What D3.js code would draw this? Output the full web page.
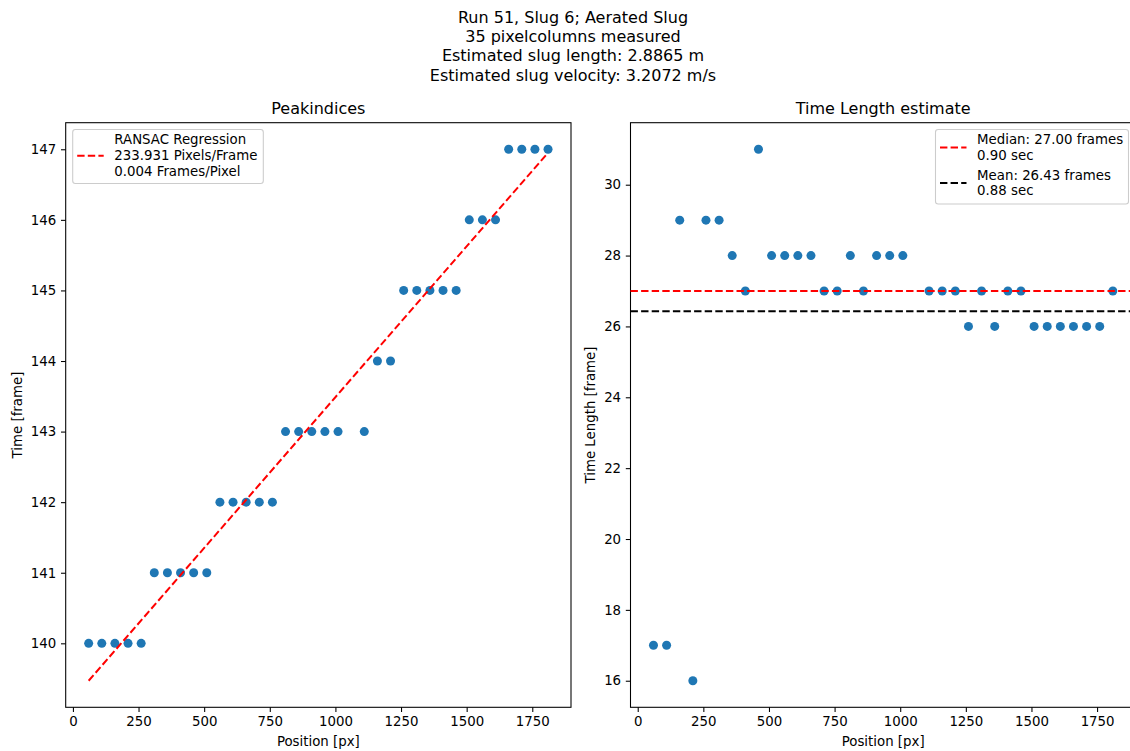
<!DOCTYPE html>
<html>
<head>
<meta charset="utf-8">
<script src="https://cdn.jsdelivr.net/npm/d3@7"></script>
<style>
body { margin: 0; background: #fff; }
svg { display: block; font-family: "DejaVu Sans", sans-serif; }
</style>
</head>
<body>
<svg width="1130" height="751"></svg>
<script>
// pixel columns (x) - 1060 was not measured
var positions = [60, 110, 160, 210, 260, 310, 360, 410, 460, 510,
                 560, 610, 660, 710, 760, 810, 860, 910, 960, 1010,
                 1110, 1160, 1210, 1260, 1310, 1360, 1410, 1460, 1510, 1560,
                 1610, 1660, 1710, 1760, 1810];
var peakFrames = [140, 140, 140, 140, 140, 141, 141, 141, 141, 141,
                  142, 142, 142, 142, 142, 143, 143, 143, 143, 143,
                  143, 144, 144, 145, 145, 145, 145, 145, 146, 146,
                  146, 147, 147, 147, 147];
var timeLengths = [17, 17, 29, 16, 29, 29, 28, 27, 31, 28,
                   28, 28, 28, 27, 27, 28, 27, 28, 28, 28,
                   27, 27, 27, 26, 27, 26, 27, 27, 26, 26,
                   26, 26, 26, 26, 27];
var ransacX = [60, 1810];
var ransacY = [139.47, 146.95];
var medianFrames = 27.00;
var meanFrames = 26.43;

var xTicks = [0, 250, 500, 750, 1000, 1250, 1500, 1750];
var peakTicks = [140, 141, 142, 143, 144, 145, 146, 147];
var lengthTicks = [16, 18, 20, 22, 24, 26, 28, 30];

var titleLines = ['Run 51, Slug 6; Aerated Slug', '35 pixelcolumns measured',
                  'Estimated slug length: 2.8865 m', 'Estimated slug velocity: 3.2072 m/s'];
var ransacLabel = ['RANSAC Regression', '233.931 Pixels/Frame', '0.004 Frames/Pixel'];
var medianLabel = ['Median: 27.00 frames', '0.90 sec'];
var meanLabel = ['Mean: 26.43 frames', '0.88 sec'];

var svg = d3.select('svg');
var blue = '#1f77b4';
var fs = 13.33;

// matplotlib style 5% margins
function padded(vals) {
    var e = d3.extent(vals);
    var m = (e[1] - e[0]) * 0.05;
    return [e[0] - m, e[1] + m];
}

var axTop = 122.7, axBottom = 707.3;

svg.selectAll('.suptitle')
    .data(titleLines)
    .enter()
    .append('text')
    .attr('class', 'suptitle')
    .attr('x', 573)
    .attr('y', function(d, i) { return 22.5 + i * 19.4; })
    .attr('text-anchor', 'middle')
    .style('font-size', '16px')
    .text(function(d) { return d; });

function panel(left, right, yVals, yTicks, title, ylabel, ylabelX) {
    var x = d3.scaleLinear().domain(padded(positions)).range([left, right]);
    var y = d3.scaleLinear().domain(padded(yVals)).range([axBottom, axTop]);
    var g = svg.append('g');

    g.append('g')
        .attr('transform', 'translate(0,' + axBottom + ')')
        .call(d3.axisBottom(x).tickValues(xTicks).tickFormat(d3.format('d'))
            .tickSize(4.7).tickPadding(4.7).tickSizeOuter(0))
        .call(styleAxis);

    g.append('g')
        .attr('transform', 'translate(' + left + ',0)')
        .call(d3.axisLeft(y).tickValues(yTicks).tickFormat(d3.format('d'))
            .tickSize(4.7).tickPadding(4.7).tickSizeOuter(0))
        .call(styleAxis);

    g.append('rect')
        .attr('x', left).attr('y', axTop)
        .attr('width', right - left).attr('height', axBottom - axTop)
        .attr('fill', 'none').attr('stroke', '#000').attr('stroke-width', 1.07);

    g.append('text')
        .attr('x', (left + right) / 2).attr('y', 114.2)
        .attr('text-anchor', 'middle')
        .style('font-size', '16px')
        .text(title);

    g.append('text')
        .attr('x', (left + right) / 2).attr('y', 745.5)
        .attr('text-anchor', 'middle')
        .style('font-size', fs + 'px')
        .text('Position [px]');

    g.append('text')
        .attr('transform', 'translate(' + ylabelX + ',' + ((axTop + axBottom) / 2) + ') rotate(-90)')
        .attr('text-anchor', 'middle')
        .style('font-size', fs + 'px')
        .text(ylabel);

    return { g: g, x: x, y: y };
}

function styleAxis(sel) {
    sel.select('.domain').remove();
    sel.selectAll('.tick line').attr('stroke', '#000').attr('stroke-width', 1.07);
    sel.selectAll('.tick text')
        .attr('fill', '#000')
        .style('font-size', fs + 'px')
        .style('font-family', '"DejaVu Sans", sans-serif');
}

function legend(g, bx, by, bw, bh, items) {
    g.append('rect')
        .attr('x', bx).attr('y', by).attr('width', bw).attr('height', bh)
        .attr('rx', 2.7)
        .attr('fill', '#fff').attr('fill-opacity', 0.8)
        .attr('stroke', '#cccccc').attr('stroke-width', 1.07);
    items.forEach(function(it) {
        g.append('line')
            .attr('x1', bx + 4.5).attr('x2', bx + 31)
            .attr('y1', it.ly).attr('y2', it.ly)
            .attr('stroke', it.color).attr('stroke-width', 2)
            .attr('stroke-dasharray', '7.4,3.2');
        it.lines.forEach(function(t, i) {
            g.append('text')
                .attr('x', bx + 41.6).attr('y', it.ty + i * 15.8)
                .style('font-size', fs + 'px')
                .text(t);
        });
    });
}

// left: peak indices
var p1 = panel(65.7, 571, peakFrames.concat(ransacY), peakTicks, 'Peakindices', 'Time [frame]', 21.5);

p1.g.selectAll('circle')
    .data(positions)
    .enter()
    .append('circle')
    .attr('cx', function(d) { return p1.x(d); })
    .attr('cy', function(d, i) { return p1.y(peakFrames[i]); })
    .attr('r', 4.5)
    .attr('fill', blue);

p1.g.append('line')
    .attr('x1', p1.x(ransacX[0])).attr('y1', p1.y(ransacY[0]))
    .attr('x2', p1.x(ransacX[1])).attr('y2', p1.y(ransacY[1]))
    .attr('stroke', '#ff0000').attr('stroke-width', 2)
    .attr('stroke-dasharray', '7.4,3.2');

legend(p1.g, 72.7, 129.5, 190.6, 54, [
    { color: '#ff0000', ly: 155.7, ty: 144, lines: ransacLabel }
]);

// right: time length
var p2 = panel(630.5, 1135.8, timeLengths, lengthTicks, 'Time Length estimate', 'Time Length [frame]', 594.5);

p2.g.selectAll('circle')
    .data(positions)
    .enter()
    .append('circle')
    .attr('cx', function(d) { return p2.x(d); })
    .attr('cy', function(d, i) { return p2.y(timeLengths[i]); })
    .attr('r', 4.5)
    .attr('fill', blue);

[[medianFrames, '#ff0000'], [meanFrames, '#000000']].forEach(function(h) {
    p2.g.append('line')
        .attr('x1', 630.5).attr('x2', 1135.8)
        .attr('y1', p2.y(h[0])).attr('y2', p2.y(h[0]))
        .attr('stroke', h[1]).attr('stroke-width', 2)
        .attr('stroke-dasharray', '7.4,3.2');
});

legend(p2.g, 935.5, 129.5, 193, 74.5, [
    { color: '#ff0000', ly: 147.5, ty: 144, lines: medianLabel },
    { color: '#000000', ly: 183, ty: 179.5, lines: meanLabel }
]);
</script>
</body>
</html>
